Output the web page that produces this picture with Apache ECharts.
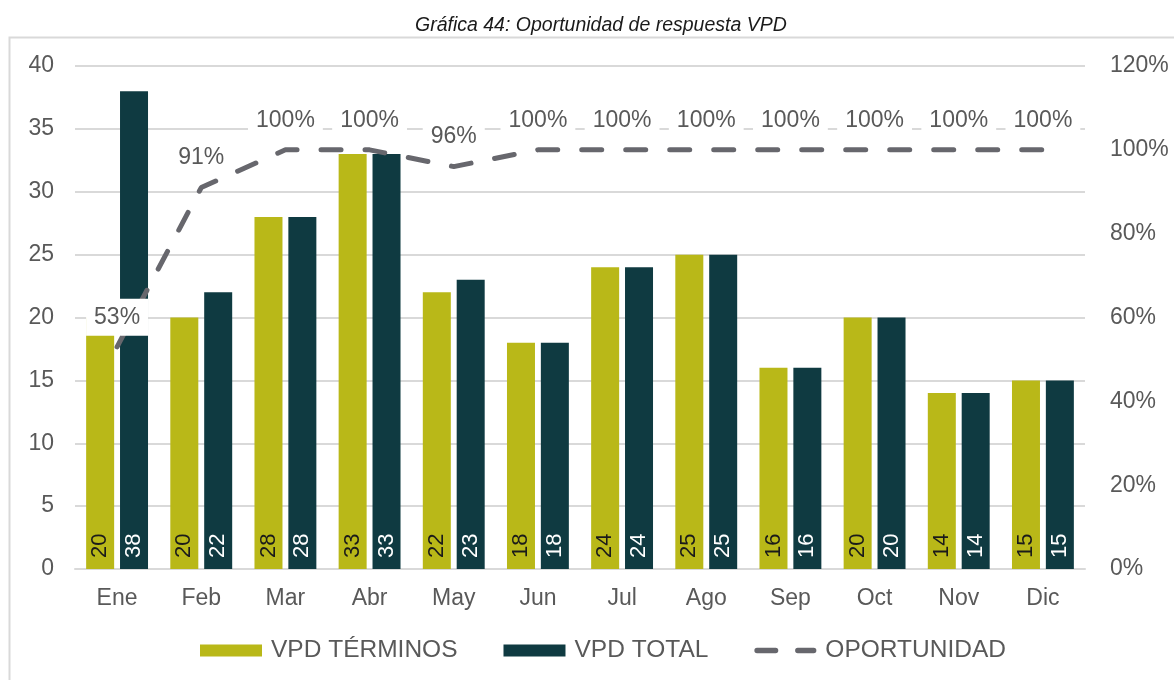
<!DOCTYPE html>
<html>
<head>
<meta charset="utf-8">
<script src="https://cdn.jsdelivr.net/npm/echarts@6/dist/echarts.min.js"></script>
<style>
html,body{margin:0;padding:0;background:#fff;}
#c{width:1174px;height:680px;}
</style>
</head>
<body>
<div id="c"></div>
<script>
const categories = ['Ene','Feb','Mar','Abr','May','Jun','Jul','Ago','Sep','Oct','Nov','Dic'];
const vpdTerminos = [20,20,28,33,22,18,24,25,16,20,14,15];
const vpdTotal = [38,22,28,33,23,18,24,25,16,20,14,15];
const oportunidad = [53,91,100,100,96,100,100,100,100,100,100,100];
const titleText = 'Gráfica 44: Oportunidad de respuesta VPD';

const FONT = '"Liberation Sans", Arial, sans-serif';
const dashIcon = 'path://M3,0h21a3,3 0 0 1 0,6h-21a3,3 0 0 1 0,-6z M49,0h18a3,3 0 0 1 0,6h-18a3,3 0 0 1 0,-6z';
const chart = echarts.init(document.getElementById('c'));
chart.setOption({
  animation: false,
  backgroundColor: '#fff',
  textStyle: {fontFamily: FONT},
  title: {
    text: titleText, left: 410, top: 11,
    textStyle: {fontFamily: FONT, fontStyle: 'italic', fontWeight: 'normal', fontSize: 19.5, color: '#1a1a1a'}
  },
  graphic: [{
    type: 'rect', left: 7, top: 35, silent: true, z: -10,
    shape: {width: 1200, height: 700},
    style: {fill: 'none', stroke: '#d9d9d9', lineWidth: 2}
  }],
  grid: {left: 75, right: 89, top: 66, bottom: 111},
  legend: {
    left: 200, top: 638, padding: 0, itemWidth: 62, itemHeight: 12, itemGap: 46,
    textStyle: {fontSize: 24.5, color: '#595959', fontFamily: FONT, padding: [0,0,0,4]},
    data: [
      {name: 'VPD TÉRMINOS', icon: 'rect'},
      {name: 'VPD TOTAL', icon: 'rect'},
      {name: 'OPORTUNIDAD', icon: dashIcon}
    ]
  },
  xAxis: {
    type: 'category', data: categories,
    axisLine: {lineStyle: {color: '#d9d9d9', width: 2}},
    axisTick: {show: false},
    axisLabel: {fontSize: 23, color: '#595959', margin: 18}
  },
  yAxis: [{
    type: 'value', min: 0, max: 40, interval: 5,
    axisLine: {show: false}, axisTick: {show: false},
    splitLine: {lineStyle: {color: '#d9d9d9', width: 2}},
    axisLabel: {fontSize: 23, color: '#595959', margin: 21}
  }, {
    type: 'value', min: 0, max: 120, interval: 20,
    axisLine: {show: false}, axisTick: {show: false},
    splitLine: {show: false},
    axisLabel: {fontSize: 23, color: '#595959', margin: 25, formatter: '{value}%'}
  }],
  series: [{
    name: 'VPD TÉRMINOS', type: 'bar', data: vpdTerminos,
    barWidth: 28, barGap: '21%',
    itemStyle: {color: '#b9b818'},
    label: {show: true, position: 'insideBottom', rotate: 90, align: 'left', verticalAlign: 'middle', distance: 11, fontSize: 22, color: '#1a1a1a'}
  }, {
    name: 'VPD TOTAL', type: 'bar', data: vpdTotal,
    barWidth: 28,
    itemStyle: {color: '#0f3a41'},
    label: {show: true, position: 'insideBottom', rotate: 90, align: 'left', verticalAlign: 'middle', distance: 11, fontSize: 22, color: '#ffffff'}
  }, {
    name: 'OPORTUNIDAD', type: 'line', yAxisIndex: 1, data: oportunidad,
    z: 5, symbol: 'circle', symbolSize: 0, showSymbol: true,
    itemStyle: {color: '#67676d'},
    lineStyle: {color: '#67676d', width: 5, type: [20, 24], cap: 'round'},
    label: {
      show: true, position: 'top', distance: 11, formatter: '{c}%',
      fontSize: 23, color: '#595959', backgroundColor: '#ffffff', padding: [7, 8]
    }
  }]
});
</script>
</body>
</html>
